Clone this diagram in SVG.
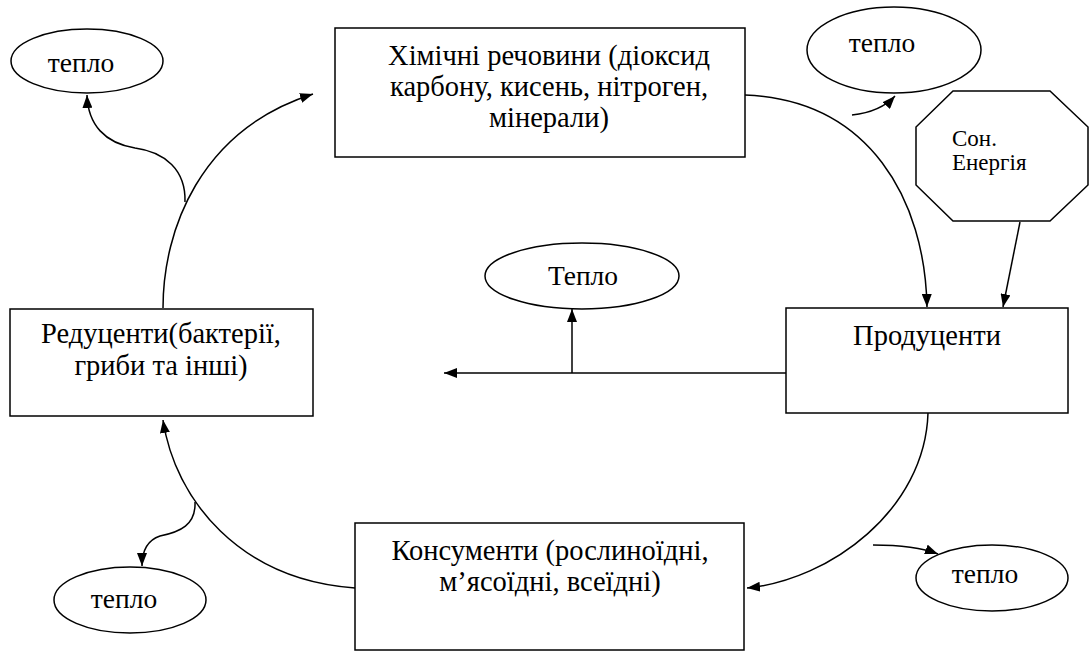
<svg xmlns="http://www.w3.org/2000/svg" width="1089" height="653" viewBox="0 0 1089 653">
<defs>
<marker id="ah" viewBox="0 0 13 10" refX="13" refY="5" markerWidth="13" markerHeight="10" markerUnits="userSpaceOnUse" orient="auto">
<path d="M0,0 L13,5 L0,10 Z" fill="#000"/>
</marker>
</defs>
<style>
.box{fill:#fff;stroke:#000;stroke-width:1.5}
.t{font-family:"Liberation Serif","Times New Roman",serif;font-size:28.5px;fill:#000;text-anchor:middle}
.e{font-family:"Liberation Serif","Times New Roman",serif;font-size:27.5px;fill:#000;text-anchor:middle}
.s{font-family:"Liberation Serif","Times New Roman",serif;font-size:23px;fill:#000}
.c{fill:none;stroke:#000;stroke-width:1.5;marker-end:url(#ah)}
</style>
<rect width="1089" height="653" fill="#fff"/>
<g id="connectors">
<path class="c" d="M163,308 C163,230 200,130 313,94"/>
<path class="c" d="M185,202 C186,170 165,152 135,148 C105,143 88,125 87,95"/>
<path class="c" d="M745,95 C870,100 925,200 927,307"/>
<path class="c" d="M852,115 C870,113 885,107 895,96"/>
<path class="c" d="M1020,222 L1003,307"/>
<path class="c" d="M786,373 L444,373"/>
<path class="c" d="M572,373 L572,309"/>
<path class="c" d="M928,413 C925,510 830,580 747,588"/>
<path class="c" d="M873,545 C895,545 920,547 938,554"/>
<path class="c" d="M355,588 C240,580 175,500 163,420"/>
<path class="c" d="M195,502 C196,525 180,532 160,536 C148,540 142,550 142,566"/>
</g>
<g id="heat-tl">
<ellipse class="box" cx="87" cy="61" rx="76" ry="32"/>
<text class="e" x="81" y="72">тепло</text>
</g>
<g id="chem">
<rect class="box" x="335" y="28" width="410" height="129"/>
<text class="t" x="549" y="65">Хімічні речовини (діоксид</text>
<text class="t" x="549" y="96">карбону, кисень, нітроген,</text>
<text class="t" x="549" y="127">мінерали)</text>
</g>
<g id="heat-tr">
<ellipse class="box" cx="894" cy="50" rx="87" ry="43"/>
<text class="e" x="882" y="52">тепло</text>
</g>
<g id="sun">
<polygon class="box" points="953,91 1050,91 1088,127 1088,185 1050,221 953,221 916,185 916,127"/>
<text class="s" x="952" y="146">Сон.</text>
<text class="s" x="952" y="170">Енергія</text>
</g>
<g id="heat-mid">
<ellipse class="box" cx="582" cy="276" rx="97" ry="33"/>
<text class="e" x="583" y="285">Тепло</text>
</g>
<g id="producers">
<rect class="box" x="786" y="308" width="282" height="105"/>
<text class="t" x="927" y="345">Продуценти</text>
</g>
<g id="decomposers">
<rect class="box" x="10" y="309" width="303" height="107"/>
<text class="t" x="161" y="343">Редуценти(бактерії,</text>
<text class="t" x="161" y="375">гриби та інші)</text>
</g>
<g id="consumers">
<rect class="box" x="355" y="523" width="389" height="127"/>
<text class="t" x="550" y="560">Консументи (рослиноїдні,</text>
<text class="t" x="550" y="591">м’ясоїдні, всеїдні)</text>
</g>
<g id="heat-bl">
<ellipse class="box" cx="130" cy="600" rx="76" ry="33"/>
<text class="e" x="124" y="608">тепло</text>
</g>
<g id="heat-br">
<ellipse class="box" cx="992" cy="578" rx="76" ry="33"/>
<text class="e" x="985" y="583">тепло</text>
</g>
</svg>
